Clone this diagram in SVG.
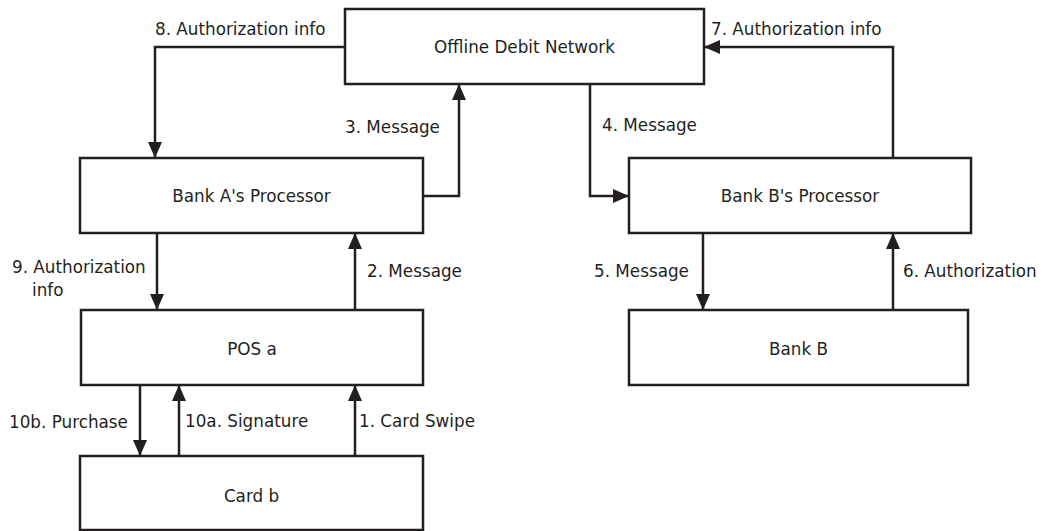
<svg xmlns="http://www.w3.org/2000/svg" width="1061" height="531" viewBox="0 0 1061 531">
<style>
.box{fill:#fff;stroke:#231f20;stroke-width:2.5}
.lbl{font-family:"DejaVu Sans","Liberation Sans",sans-serif;font-size:16.8px;fill:#231f20}
.c{text-anchor:middle}
.con{fill:none;stroke:#231f20;stroke-width:2.5;marker-end:url(#ah)}
</style>
<defs>
<marker id="ah" markerUnits="userSpaceOnUse" markerWidth="16" markerHeight="14" viewBox="0 0 16 14" refX="16" refY="7" orient="auto">
<path d="M0,0 L16,7 L0,14 Z" fill="#231f20"/>
</marker>
</defs>
<g id="odn"><rect class="box" x="345" y="9" width="359" height="75"/><text class="lbl c" x="524.5" y="53">Offline Debit Network</text></g>
<g id="bankAproc"><rect class="box" x="80" y="158" width="343" height="75"/><text class="lbl c" x="251.5" y="202">Bank A's Processor</text></g>
<g id="bankBproc"><rect class="box" x="629" y="158" width="342" height="75"/><text class="lbl c" x="800" y="202">Bank B's Processor</text></g>
<g id="pos"><rect class="box" x="81" y="310" width="342" height="75"/><text class="lbl c" x="252" y="355">POS a</text></g>
<g id="bankB"><rect class="box" x="629" y="310" width="339" height="75"/><text class="lbl c" x="798.5" y="355">Bank B</text></g>
<g id="card"><rect class="box" x="80" y="456" width="343" height="74"/><text class="lbl c" x="251.5" y="502">Card b</text></g>
<g id="connectors">
<path class="con" d="M345,47 H155 V158"/>
<path class="con" d="M423,196 H459 V84"/>
<path class="con" d="M590,84 V196 H629"/>
<path class="con" d="M893,158 V47 H704"/>
<path class="con" d="M703,233 V310"/>
<path class="con" d="M893,310 V233"/>
<path class="con" d="M157,233 V310"/>
<path class="con" d="M355,310 V233"/>
<path class="con" d="M140,385 V456"/>
<path class="con" d="M179,456 V385"/>
<path class="con" d="M355,456 V385"/>
</g>
<g id="labels">
<text class="lbl" x="155" y="35">8. Authorization info</text>
<text class="lbl" x="345" y="133">3. Message</text>
<text class="lbl" x="711" y="35">7. Authorization info</text>
<text class="lbl" x="602" y="131">4. Message</text>
<text class="lbl" x="594" y="277">5. Message</text>
<text class="lbl" x="903" y="277">6. Authorization</text>
<text class="lbl" x="12" y="273">9. Authorization</text>
<text class="lbl" x="32" y="296">info</text>
<text class="lbl" x="367" y="277">2. Message</text>
<text class="lbl" x="9" y="428">10b. Purchase</text>
<text class="lbl" x="185" y="427">10a. Signature</text>
<text class="lbl" x="359" y="427">1. Card Swipe</text>
</g>
</svg>
